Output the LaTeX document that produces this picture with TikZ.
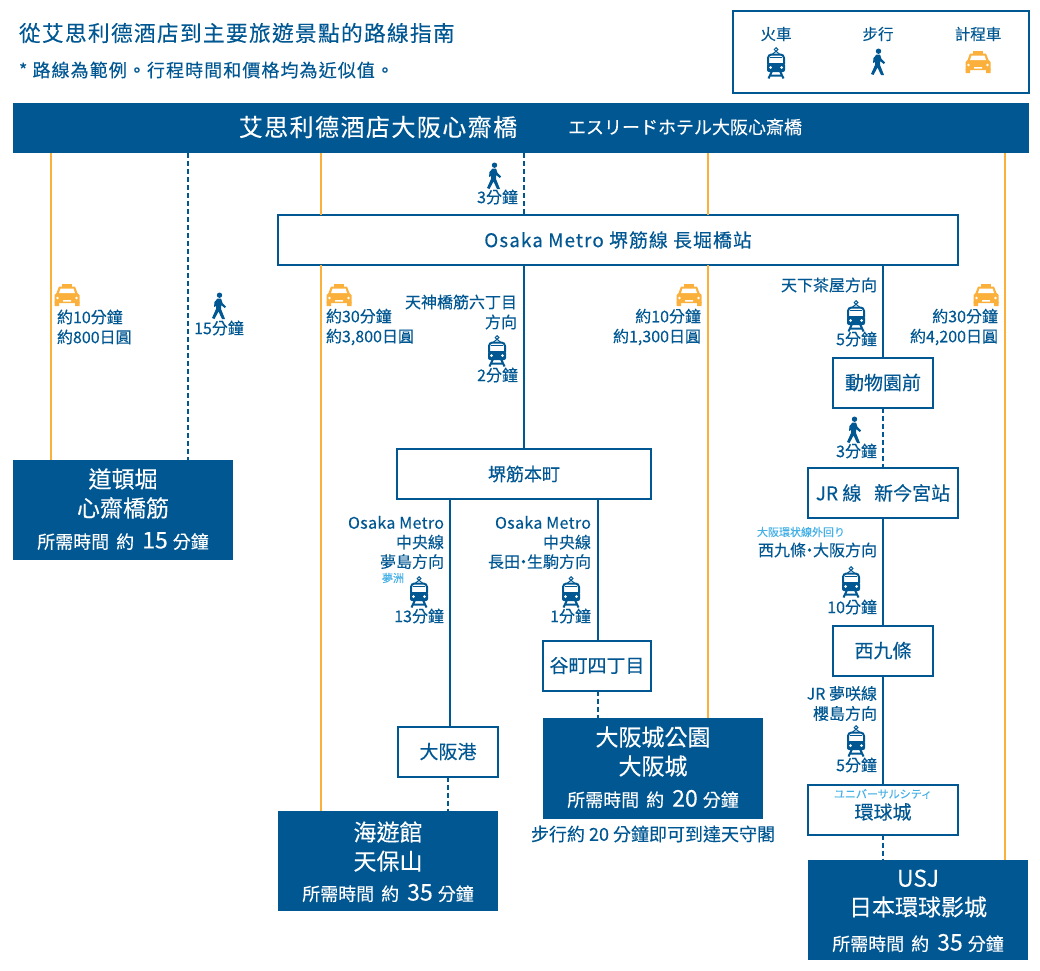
\documentclass[tikz,border=0pt]{standalone}
\usepackage{fontspec}
\setmainfont[FakeBold=0.2]{Noto Sans CJK TC}
\newfontfamily\wide[LetterSpace=6,FakeBold=0.2]{Noto Sans CJK TC}
\newfontfamily\tracked[LetterSpace=2,FakeBold=0.2]{Noto Sans CJK TC}
\usetikzlibrary{positioning}
\definecolor{mainblue}{HTML}{005792}
\definecolor{taxiorange}{HTML}{FBB03B}
\definecolor{skyblue}{HTML}{45B0E6}
\newcommand{\sz}[2]{\fontsize{#1}{#2}\selectfont}
\newcommand{\needtime}[1]{所需時間\hspace{7pt}約\hspace{8pt}{\sz{23}{20}#1}\hspace{5pt}分鐘}
\newcommand{\middot}{\kern-4.5pt·\kern-4.5pt}
\begin{document}
\begin{tikzpicture}[x=1pt,y=-1pt]
\tikzset{every node/.style={inner sep=0,outer sep=0,text=mainblue},
         taxiline/.style={draw=taxiorange,line width=2},
         walkline/.style={draw=mainblue,line width=2,dash pattern=on 5pt off 3pt},
         trainline/.style={draw=mainblue,line width=2},
         stationbox/.style={draw=mainblue,line width=2,fill=white,align=center,minimum width=100,minimum height=50,font=\sz{19}{22}},
         goalbox/.style={fill=mainblue,text=white,align=center,minimum width=220,minimum height=100},
         goalname/.style={text=white,align=center,font=\sz{23}{29}},
         goaltime/.style={text=white,font=\sz{18}{20}},
         rlabel/.style={anchor=east,align=right,font=\sz{16}{20}},
         llabel/.style={anchor=west,align=left,font=\sz{16}{20}},
         clabel/.style={align=center,font=\sz{16}{20}},
         tinylabel/.style={text=skyblue,font=\sz{11}{12}},
         legendlabel/.style={font=\sz{15.5}{18}},
         trainicon/.pic={
           \draw[mainblue,line width=1] (0,-13.5) circle (1.8);
           \draw[mainblue,line width=1] (0,-11.7) -- (-4,-8.5) (0,-11.7) -- (4,-8.5);
           \draw[mainblue,line width=2,rounded corners=3.5] (-8,1) -- (-8,-8.5) -- (8,-8.5) -- (8,1);
           \draw[mainblue,line width=1] (-6,-5.5) -- (6,-5.5);
           \fill[mainblue,rounded corners=2] (-9,0) rectangle (9,9);
           \fill[white] (-5.5,4.5) circle (1.5) (5.5,4.5) circle (1.5);
           \draw[mainblue,line width=2] (-4,8) -- (-7.5,15.5) (4,8) -- (7.5,15.5) (-6,12.5) -- (6,12.5);
         },
         walkicon/.pic={
           \fill[mainblue] (0.5,-10.8) circle (2.7);
           \fill[mainblue] (-1.5,-7.5) -- (2,-7.5) -- (3.5,-3) -- (7,0.5) -- (5.8,2) -- (2,-1) -- (2,3) -- (6,13) -- (3,13) -- (-0.5,5.5) -- (-4.5,13) -- (-7,12) -- (-3,3) -- (-3,0) -- (-5,1) -- (-4.5,-4) -- cycle;
         },
         taxiicon/.pic={
           \fill[taxiorange] (-5,-11.5) rectangle (5,-8.5);
           \fill[taxiorange] (-8,-8.5) -- (8,-8.5) -- (10.5,-2) -- (12.5,0) -- (12.5,8) -- (-12.5,8) -- (-12.5,0) -- (-10.5,-2) -- cycle;
           \fill[taxiorange] (-12.5,7) rectangle (-8,11) (12.5,7) rectangle (8,11);
           \fill[white] (-6.5,-6.5) -- (6.5,-6.5) -- (8,-2) -- (-8,-2) -- cycle;
           \fill[white] (-9.5,3) circle (1.3) (9.5,3) circle (1.3) (-4,5) rectangle (4,6.5);
         }}
\useasboundingbox (0,0) rectangle (1040,970);

\node[anchor=west,font=\sz{21.7}{26}] (title) at (19,33) {\wide 從艾思利德酒店到主要旅遊景點的路線指南};
\node[anchor=west,font=\sz{18}{20}] (subtitle) at (19,70) {\wide * 路線為範例。行程時間和價格均為近似值。};

\node[draw=mainblue,line width=2,minimum width=296,minimum height=82] (legend) at (881,52) {};
\node[legendlabel] (legtrain) at (776,34) {火車};
\node[legendlabel] (legwalk) at (878,34) {步行};
\node[legendlabel] (legtaxi) at (978,34) {計程車};
\pic at (776,63) {trainicon};
\pic at (878,62) {walkicon};
\pic at (978,62) {taxiicon};

\node[fill=mainblue,minimum width=1016,minimum height=50] (hotel) at (521,128) {};
\node[text=white,font=\sz{24}{26}] (hotelzh) at (378,127) {\wide 艾思利德酒店大阪心齋橋};
\node[text=white,font=\sz{18}{20}] (hotelja) at (685,127) {エスリードホテル大阪心斎橋};

\node[stationbox,minimum width=680] (metro) at (618,240) {\sz{18.8}{22}\wide Osaka Metro 堺筋線 長堀橋站};
\node[stationbox] (zoo) at (883,382.5) {動物園前};
\node[stationbox,minimum width=254] (sakaisuji) at (524,474) {\sz{18}{22}堺筋本町};
\node[stationbox,minimum width=150] (jr) at (883,493) {JR 線 \ \ 新今宮站};
\node[stationbox] (nishikujo) at (883,650.5) {西九條};
\node[stationbox,minimum width=108] (tanimachi) at (597,665.5) {谷町四丁目};
\node[stationbox] (osakako) at (448,751.5) {大阪港};
\node[stationbox,minimum width=150] (univ) at (883,809.5) {};
\node[tinylabel] (univja) at (883,794) {ユニバーサルシティ};
\node[font=\sz{19}{22}] (univzh) at (883,812) {環球城};

\node[goalbox] (dotonbori) at (123,510) {};
\node[goalbox] (aquarium) at (388,861) {};
\node[goalbox,minimum height=101] (castle) at (653,768.5) {};
\node[goalbox] (usj) at (918,910) {};

\node[goalname] (dotonboriname) at (123,493.5) {道頓堀\\心齋橋筋};
\node[goaltime] (dotonboritime) at (123,541) {\needtime{15}};
\node[goalname] (aquariumname) at (388,846.5) {海遊館\\天保山};
\node[goaltime] (aquariumtime) at (388,893) {\needtime{35}};
\node[goalname] (castlename) at (653,751.5) {大阪城公園\\大阪城};
\node[goaltime] (castletime) at (653,799) {\needtime{20}};
\node[goalname] (usjname) at (918,893.5) {USJ\\日本環球影城};
\node[goaltime] (usjtime) at (918,943) {\needtime{35}};
\node[font=\sz{18}{20}] (castlenote) at (653,834) {步行約 20 分鐘即可到達天守閣};

\coordinate (xa) at (50.5,0);
\coordinate (xb) at (188,0);
\coordinate (xc) at (320.5,0);
\coordinate (xd) at (523.5,0);
\coordinate (xe) at (708,0);
\coordinate (xf) at (1004.5,0);
\coordinate (xg) at (450,0);
\coordinate (xh) at (597.5,0);
\coordinate (xi) at (882.5,0);

\draw[taxiline] (hotel.south -| xa) -- (dotonbori.north -| xa);
\draw[walkline] (hotel.south -| xb) -- (dotonbori.north -| xb);
\draw[taxiline] (hotel.south -| xc) -- (metro.north -| xc);
\draw[taxiline] (metro.south -| xc) -- (aquarium.north -| xc);
\draw[walkline] (hotel.south -| xd) -- (metro.north -| xd);
\draw[trainline] (metro.south -| xd) -- (sakaisuji.north -| xd);
\draw[taxiline] (hotel.south -| xe) -- (metro.north -| xe);
\draw[taxiline] (metro.south -| xe) -- (castle.north -| xe);
\draw[taxiline] (hotel.south -| xf) -- (usj.north -| xf);
\draw[trainline] (metro.south -| xi) -- (zoo.north -| xi);
\draw[walkline] (zoo.south -| xi) -- (jr.north -| xi);
\draw[trainline] (jr.south -| xi) -- (nishikujo.north -| xi);
\draw[trainline] (nishikujo.south -| xi) -- (univ.north -| xi);
\draw[walkline] (univ.south -| xi) -- (usj.north -| xi);
\draw[trainline] (sakaisuji.south -| xg) -- (osakako.north -| xg);
\draw[walkline] (osakako.south) -- (aquarium.north -| osakako.south);
\draw[trainline] (sakaisuji.south -| xh) -- (tanimachi.north -| xh);
\draw[walkline] (tanimachi.south -| xh) -- (castle.north -| xh);

\pic at (67,295) {taxiicon};
\node[llabel] (timea) at (57,327) {約10分鐘\\約800日圓};
\pic at (219,306) {walkicon};
\node[clabel] (timeb) at (219,328) {15分鐘};
\pic at (494,176) {walkicon};
\node[rlabel] (timec) at (518,197) {3分鐘};
\pic at (339,295) {taxiicon};
\node[llabel] (timed) at (326,327) {約30分鐘\\約3,800日圓};
\node[rlabel] (dira) at (517,312) {天神橋筋六丁目\\方向};
\pic at (497,351) {trainicon};
\node[rlabel] (timee) at (518,375) {2分鐘};
\pic at (689,295) {taxiicon};
\node[rlabel] (timef) at (701,327) {約10分鐘\\約1,300日圓};
\node[rlabel] (dirb) at (877,285) {天下茶屋方向};
\pic at (856,316) {trainicon};
\node[rlabel] (timeg) at (877,339) {5分鐘};
\pic at (986,295) {taxiicon};
\node[rlabel] (timeh) at (998,327) {約30分鐘\\約4,200日圓};
\pic at (854,430) {walkicon};
\node[rlabel] (timei) at (877,451) {3分鐘};
\node[tinylabel,anchor=west] (loopline) at (757,532) {大阪環状線外回り};
\node[rlabel] (dirc) at (877,550) {西九條\middot 大阪方向};
\pic at (851,582) {trainicon};
\node[rlabel] (timej) at (877,607) {10分鐘};
\node[rlabel] (dird) at (877,703.5) {JR 夢咲線\\櫻島方向};
\pic at (856,741) {trainicon};
\node[rlabel] (timek) at (877,765) {5分鐘};
\node[rlabel,font=\sz{16}{19.5}] (dire) at (444,542.5) {{\tracked Osaka Metro}\\中央線\\夢島方向};
\node[tinylabel] (yumeshima) at (393,578) {夢洲};
\pic at (419,592) {trainicon};
\node[rlabel] (timel) at (444,616) {13分鐘};
\node[rlabel,font=\sz{16}{19.5}] (dirf) at (591,542.5) {{\tracked Osaka Metro}\\中央線\\長田\middot 生駒方向};
\pic at (571,592) {trainicon};
\node[rlabel] (timem) at (591,616) {1分鐘};
\end{tikzpicture}
\end{document}
